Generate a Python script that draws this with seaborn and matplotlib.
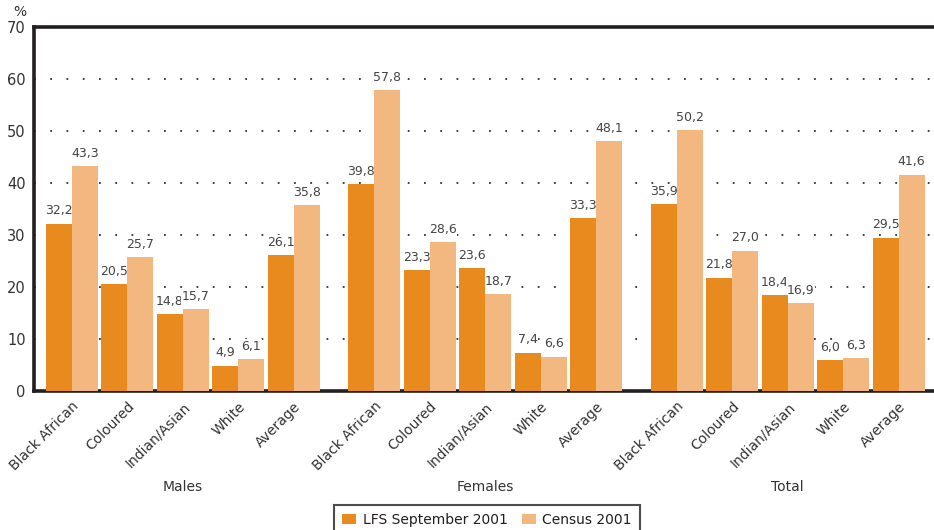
import numpy as np
import pandas as pd
import matplotlib
matplotlib.use("Agg")
import matplotlib.pyplot as plt
import seaborn as sns
from matplotlib.patches import Patch

groups = ["Males", "Females", "Total"]
categories = ["Black African", "Coloured", "Indian/Asian", "White", "Average"]
series = ["LFS September 2001", "Census 2001"]
lfs = [32.2, 20.5, 14.8, 4.9, 26.1,
       39.8, 23.3, 23.6, 7.4, 33.3,
       35.9, 21.8, 18.4, 6.0, 29.5]
census = [43.3, 25.7, 15.7, 6.1, 35.8,
          57.8, 28.6, 18.7, 6.6, 48.1,
          50.2, 27.0, 16.9, 6.3, 41.6]
yticks = [0, 10, 20, 30, 40, 50, 60, 70]
colors = ["#E88A1E", "#F3B880"]

GROUP_STEP = 5.46
positions = [g * GROUP_STEP + i for g in range(len(groups)) for i in range(len(categories))]

rows = []
for k, pos in enumerate(positions):
    rows.append({"x": pos, "series": series[0], "value": lfs[k]})
    rows.append({"x": pos, "series": series[1], "value": census[k]})
df = pd.DataFrame(rows)

sns.set_theme(style="white")
plt.rcParams["font.family"] = ["DejaVu Sans"]

fig = plt.figure(figsize=(9.34, 5.30), dpi=100)
ax = fig.add_axes([34 / 934, 1 - 391 / 530, 1 - 34 / 934, (391 - 27) / 530])

sns.barplot(data=df, x="x", y="value", hue="series", hue_order=series,
            palette=colors, saturation=1, native_scale=True, width=0.94,
            errorbar=None, ax=ax, legend=False, linewidth=0, zorder=3)

for cont in ax.containers:
    for bar in cont:
        h = bar.get_height()
        ax.text(bar.get_x() + bar.get_width() / 2, h + 1.2,
                f"{h:.1f}".replace(".", ","), ha="center", va="bottom",
                fontsize=9, color="#444444", zorder=2,
                bbox=dict(facecolor="white", edgecolor="none", pad=0.5))

ax.set_xlim(-0.685, positions[-1] + 0.64)
ax.set_ylim(0, 70)
ax.set_yticks(yticks)
ax.set_yticklabels([str(v) for v in yticks], fontsize=10.5, color="#333333")
ax.set_xticks(positions)
ax.set_xticklabels(categories * len(groups), rotation=45, ha="right",
                   rotation_mode="anchor", fontsize=10, color="#333333")
ax.tick_params(axis="both", length=0)
ax.tick_params(axis="x", pad=6)
ax.tick_params(axis="y", pad=6)
ax.set_xlabel("")
ax.set_ylabel("")

for v in yticks[1:-1]:
    ax.axhline(v, color="#333333", linestyle=(0, (1, 8)), linewidth=1.3, zorder=1)

for side in ["left", "top", "bottom"]:
    ax.spines[side].set_visible(True)
    ax.spines[side].set_color("#231f20")
    ax.spines[side].set_linewidth(2.6)
ax.spines["right"].set_visible(False)

fig.text(20 / 934, 1 - 12 / 530, "%", ha="center", va="center",
         fontsize=10, color="#333333")

for g, name in enumerate(groups):
    cx = g * GROUP_STEP + 2
    xf = ax.transData.transform((cx, 0))[0] / fig.bbox.width
    fig.text(xf, 1 - 487 / 530, name, ha="center", va="center",
             fontsize=10, color="#333333")

handles = [Patch(facecolor=c, edgecolor="none") for c in colors]
leg = fig.legend(handles, series, loc="upper center",
                 bbox_to_anchor=(487 / 934, 1 - 505 / 530), ncol=2,
                 frameon=True, fancybox=False, fontsize=10,
                 handlelength=1.0, handleheight=0.8, handletextpad=0.5,
                 columnspacing=1.0, borderpad=0.55, borderaxespad=0)
leg.get_frame().set_edgecolor("#231f20")
leg.get_frame().set_linewidth(1.5)
for t in leg.get_texts():
    t.set_color("#231f20")

fig.savefig("out.png", dpi=100)
